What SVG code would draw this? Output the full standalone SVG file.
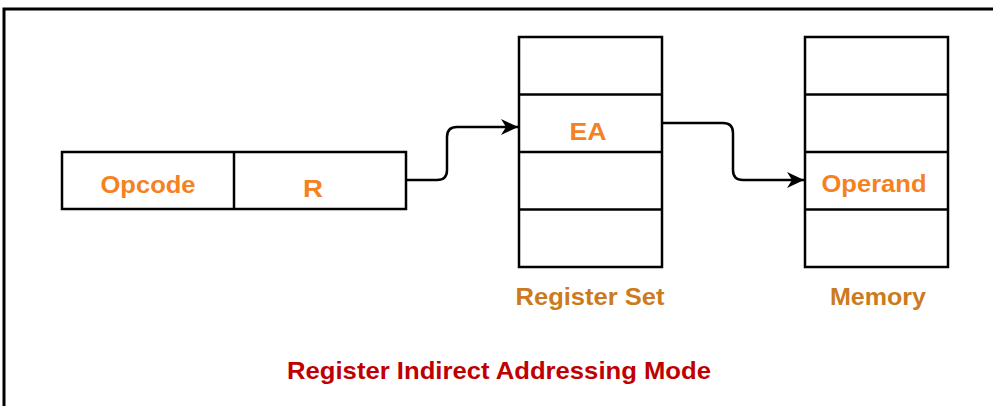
<svg xmlns="http://www.w3.org/2000/svg" width="993" height="406" viewBox="0 0 993 406">
<defs>
<style>
.box{fill:#fff;stroke:#000;stroke-width:2.5}
.ln{stroke:#000;stroke-width:2.5}
.t{font-family:"Liberation Sans",Arial,sans-serif;font-weight:bold;text-anchor:middle}
.o{fill:#F5821F;font-size:24px}
.l{fill:#CC7A1E;font-size:23px}
.conn{fill:none;stroke:#000;stroke-width:2.5}
</style>
<marker id="ah" viewBox="0 0 18 18" markerWidth="18" markerHeight="18" refX="17" refY="9" orient="auto" markerUnits="userSpaceOnUse">
<path d="M0,1 L17,9 L0,17 L5,9 Z" fill="#000"/>
</marker>
</defs>
<rect x="0" y="0" width="993" height="406" fill="#fff"/>
<path d="M4,406 V9 H993" fill="none" stroke="#000" stroke-width="3"/>
<g id="instruction">
<rect class="box" x="62" y="152" width="344" height="57"/>
<line class="ln" x1="234" y1="152" x2="234" y2="209"/>
<text class="t o" x="148" y="193" textLength="95" lengthAdjust="spacingAndGlyphs">Opcode</text>
<text class="t o" x="313" y="197" textLength="20" lengthAdjust="spacingAndGlyphs">R</text>
</g>
<g id="register-set">
<rect class="box" x="519" y="37" width="143" height="230"/>
<line class="ln" x1="519" y1="94.5" x2="662" y2="94.5"/>
<line class="ln" x1="519" y1="152" x2="662" y2="152"/>
<line class="ln" x1="519" y1="209.5" x2="662" y2="209.5"/>
<text class="t o" x="588" y="140" textLength="37" lengthAdjust="spacingAndGlyphs">EA</text>
<text class="t l" x="590" y="305" textLength="149" lengthAdjust="spacingAndGlyphs">Register Set</text>
</g>
<g id="memory">
<rect class="box" x="805" y="37" width="143" height="230"/>
<line class="ln" x1="805" y1="94.5" x2="948" y2="94.5"/>
<line class="ln" x1="805" y1="152" x2="948" y2="152"/>
<line class="ln" x1="805" y1="209.5" x2="948" y2="209.5"/>
<text class="t o" x="874" y="192" textLength="105" lengthAdjust="spacingAndGlyphs">Operand</text>
<text class="t l" x="878" y="305" textLength="96" lengthAdjust="spacingAndGlyphs">Memory</text>
</g>
<g id="connectors">
<path class="conn" d="M406,180 H437 Q447,180 447,170 V137 Q447,127 457,127 H518" marker-end="url(#ah)"/>
<path class="conn" d="M662,123 H723 Q733,123 733,133 V170 Q733,180 743,180 H804" marker-end="url(#ah)"/>
</g>
<text class="t" x="499" y="379" fill="#C00000" font-size="24" textLength="424" lengthAdjust="spacingAndGlyphs">Register Indirect Addressing Mode</text>
</svg>
